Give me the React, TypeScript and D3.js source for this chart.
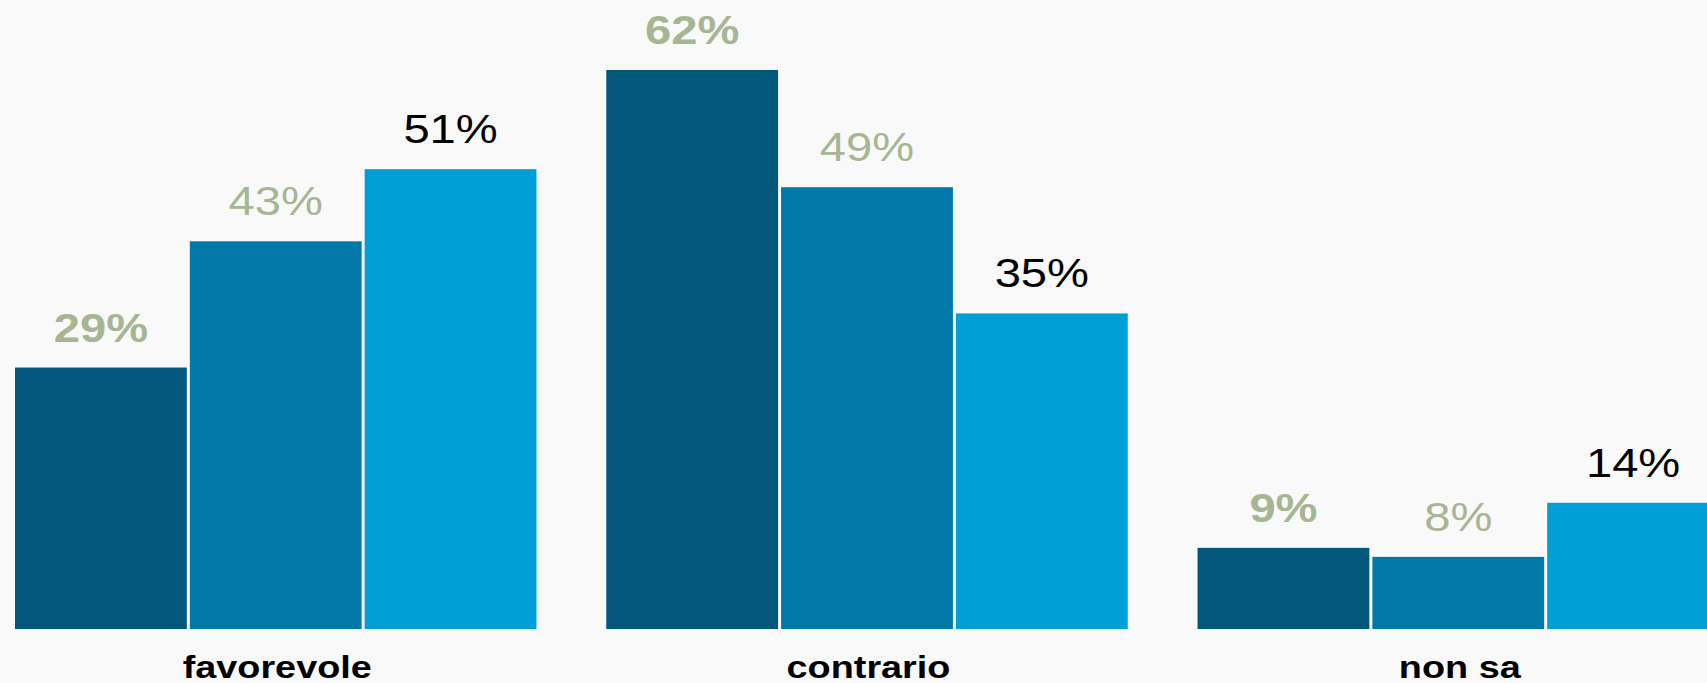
import React from "react";
import * as d3 from "d3";

const categories = ["favorevole", "contrario", "non sa"];
const seriesKeys = ["s1", "s2", "s3"];
const series1 = [29, 62, 9];
const series2 = [43, 49, 8];
const series3 = [51, 35, 14];
const seriesValues = [series1, series2, series3];
const barColors = ["#02587a", "#0079a8", "#009fd6"];
const labelColors = ["#a6b693", "#a6b693", "#000000"];
const labelWeights = ["bold", "normal", "normal"];

const W = 1707;
const H = 683;

export default function App() {
  const x0 = d3
    .scaleBand<string>()
    .domain(categories)
    .range([15, 1722])
    .paddingInner(0.113)
    .paddingOuter(0);
  const x1 = d3
    .scaleBand<string>()
    .domain(seriesKeys)
    .range([0, x0.bandwidth()])
    .padding(0);
  const y = d3.scaleLinear().domain([0, 62]).range([629, 70]);
  const font = "Arial, 'Liberation Sans', Helvetica, sans-serif";

  return (
    <svg
      width={W}
      height={H}
      style={{ position: "absolute", left: 0, top: 0, display: "block" }}
    >
      <rect x={0} y={0} width={W} height={H} fill="#f9f9f9" />
      {categories.map((cat, ci) => {
        const gx = x0(cat) as number;
        return (
          <g key={cat}>
            {seriesKeys.map((sk, si) => {
              const v = seriesValues[si][ci];
              const bx = gx + (x1(sk) as number);
              const bw = x1.bandwidth() - 3;
              const cx = bx + bw / 2;
              return (
                <g key={sk}>
                  <rect
                    x={bx}
                    y={y(v)}
                    width={bw}
                    height={y(0) - y(v)}
                    fill={barColors[si]}
                  />
                  <text
                    transform={`translate(${cx},${y(v) - 26}) scale(1.15,1)`}
                    textAnchor="middle"
                    fontFamily={font}
                    fontSize={41}
                    fontWeight={labelWeights[si]}
                    fill={labelColors[si]}
                  >
                    {v}%
                  </text>
                </g>
              );
            })}
            <text
              transform={`translate(${gx + x0.bandwidth() / 2},678) scale(1.22,1)`}
              textAnchor="middle"
              fontFamily={font}
              fontSize={31}
              fontWeight="bold"
              fill="#000"
            >
              {cat}
            </text>
          </g>
        );
      })}
    </svg>
  );
}
